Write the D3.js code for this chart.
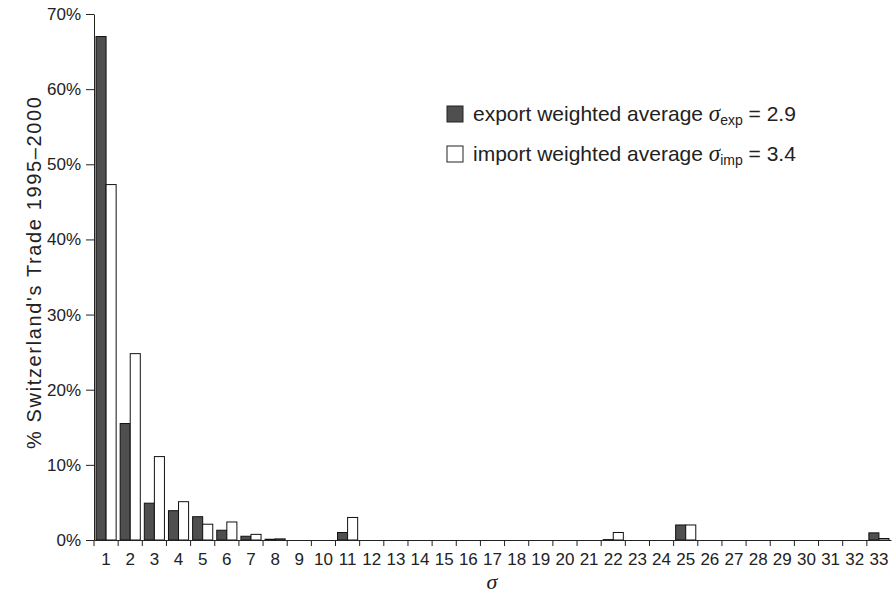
<!DOCTYPE html>
<html>
<head>
<meta charset="utf-8">
<script src="https://cdn.jsdelivr.net/npm/d3@7"></script>
<style>
  body { margin: 0; background: #fff; }
  text { font-family: "Liberation Sans", Arial, sans-serif; fill: #222; }
  .axis text { font-size: 17px; }
  .axis path, .axis line { stroke: #222; }
</style>
</head>
<body>
<div class="chart"></div>
<script>
var svgWidth = 893;
var svgHeight = 598;

// data (% of trade per sigma bin)
var sigmas = d3.range(1, 34);
var exportShare = [67.0, 15.5, 4.9, 3.9, 3.1, 1.3, 0.5, 0.1, 0, 0, 1.0, 0, 0, 0, 0, 0, 0, 0, 0, 0, 0, 0.05, 0, 0, 2.0, 0, 0, 0, 0, 0, 0, 0, 0.95];
var importShare = [47.3, 24.8, 11.1, 5.1, 2.1, 2.4, 0.75, 0.15, 0, 0, 3.0, 0, 0, 0, 0, 0, 0, 0, 0, 0, 0, 1.0, 0, 0, 2.0, 0, 0, 0, 0, 0, 0, 0, 0.2];
var yTicks = [0, 10, 20, 30, 40, 50, 60, 70];
var seriesNames = ["export", "import"];

var plotLeft = 94, plotRight = 891, plotTop = 14, plotBottom = 540;

var svg = d3.select(".chart")
  .append("svg")
  .attr("width", svgWidth)
  .attr("height", svgHeight);

var x = d3.scaleBand()
  .domain(sigmas)
  .range([plotLeft, plotRight])
  .padding(0);

var xSub = d3.scaleBand()
  .domain(seriesNames)
  .range([0, x.bandwidth()])
  .paddingInner(0)
  .paddingOuter(0.2);

var y = d3.scaleLinear()
  .domain([0, 70])
  .range([plotBottom, plotTop]);

var rows = sigmas.map((s, i) => ({ s: s, export: exportShare[i], import: importShare[i] }));

// bars
var groups = svg.selectAll("g.bin")
  .data(rows)
  .enter()
  .append("g")
  .attr("class", "bin")
  .attr("transform", d => `translate(${x(d.s)},0)`);

groups.selectAll("rect")
  .data(d => seriesNames.map(k => ({ key: k, value: d[k] })).filter(e => e.value > 0))
  .enter()
  .append("rect")
  .attr("x", d => xSub(d.key))
  .attr("y", d => y(d.value))
  .attr("width", xSub.bandwidth())
  .attr("height", d => plotBottom - y(d.value))
  .attr("fill", d => d.key === "export" ? "#4f4f4f" : "#fff")
  .attr("stroke", "#111")
  .attr("stroke-width", 1);

// y axis
svg.append("g")
  .attr("class", "axis")
  .attr("transform", `translate(${plotLeft},0)`)
  .call(d3.axisLeft(y).tickValues(yTicks).tickFormat(d => d + "%").tickSize(8).tickSizeOuter(0))
  .call(g => g.selectAll("text").attr("x", -13));

// x axis: labels at bin centres, ticks at bin edges
var xAxis = svg.append("g")
  .attr("class", "axis")
  .attr("transform", `translate(0,${plotBottom})`)
  .call(d3.axisBottom(x).tickSize(0).tickSizeOuter(0).tickPadding(13));

xAxis.selectAll(".edge")
  .data(sigmas)
  .enter()
  .append("line")
  .attr("class", "edge")
  .attr("x1", d => x(d))
  .attr("x2", d => x(d))
  .attr("y1", 0)
  .attr("y2", 6)
  .attr("stroke", "#222");

// axis titles
svg.append("text")
  .attr("transform", "translate(41,273) rotate(-90)")
  .attr("text-anchor", "middle")
  .attr("textLength", 352)
  .attr("lengthAdjust", "spacing")
  .style("font-size", "20px")
  .text("% Switzerland's Trade 1995\u20132000");

svg.append("text")
  .attr("x", 492)
  .attr("y", 589)
  .attr("text-anchor", "middle")
  .style("font-family", "'Liberation Serif', 'DejaVu Serif', serif")
  .style("font-style", "italic")
  .style("font-size", "22px")
  .text("\u03c3");

// legend
var legend = [
  { key: "export", label: "export weighted average ", sub: "exp", val: " = 2.9" },
  { key: "import", label: "import weighted average ", sub: "imp", val: " = 3.4" }
];

var lg = svg.selectAll("g.legend")
  .data(legend)
  .enter()
  .append("g")
  .attr("class", "legend")
  .attr("transform", (d, i) => `translate(447,${106 + i * 40})`);

lg.append("rect")
  .attr("width", 16)
  .attr("height", 16)
  .attr("fill", d => d.key === "export" ? "#4f4f4f" : "#fff")
  .attr("stroke", "#222");

var lt = lg.append("text")
  .attr("x", 26)
  .attr("y", 15)
  .style("font-size", "21px");

lt.append("tspan").text(d => d.label);
lt.append("tspan")
  .style("font-family", "'Liberation Serif', 'DejaVu Serif', serif")
  .style("font-style", "italic")
  .style("font-size", "23px")
  .text("\u03c3");
lt.append("tspan")
  .attr("dy", 4)
  .style("font-size", "14px")
  .text(d => d.sub);
lt.append("tspan")
  .attr("dy", -4)
  .text(d => d.val);
</script>
</body>
</html>
